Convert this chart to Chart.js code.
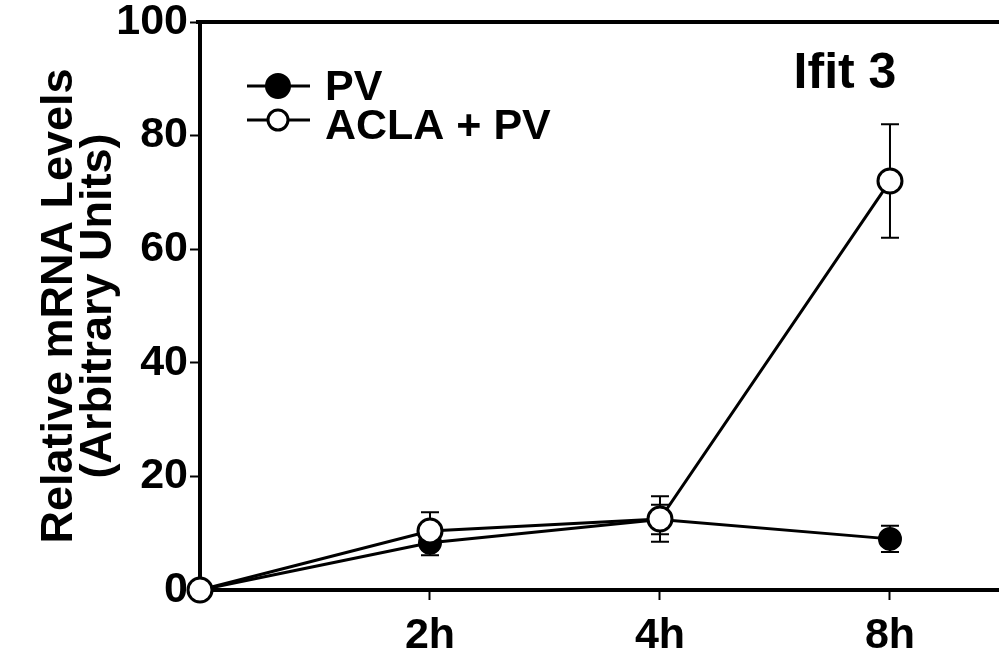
<!DOCTYPE html>
<html><head><meta charset="utf-8">
<script src="https://cdn.jsdelivr.net/npm/chart.js@4.4.0/dist/chart.umd.min.js"></script>
<style>html,body{margin:0;padding:0;background:#fff;overflow:hidden}#wrap{width:999px;height:656px;position:relative}</style>
</head><body><div id="wrap"><canvas id="c"></canvas></div>
<script>
const categories = ['', '2h', '4h', '8h'];
const pvValues = [0, 8.3, 12.4, 9.0];
const pvErrors = [0, 2.2, 2.6, 2.3];
const aclaValues = [0, 10.4, 12.5, 72.0];
const aclaErrors = [0, 3.3, 4.0, 10.0];
const yTicks = [0, 20, 40, 60, 80, 100];
const xTickIdx = [1, 2, 3];
const seriesLabels = ['PV', 'ACLA + PV'];
const panelTitle = 'Ifit 3';
const yTitle = ['Relative mRNA Levels', '(Arbitrary Units)'];

const FONT = '"Liberation Sans", Arial, Helvetica, sans-serif';

const toPts = (vals) => vals.map((v, i) => ({x: i, y: v}));

const errorBarPlugin = {
  id: 'errbars',
  beforeDatasetsDraw(chart) {
    const {ctx, scales: {x, y}} = chart;
    ctx.save();
    ctx.strokeStyle = '#000';
    ctx.lineWidth = 2;
    chart.data.datasets.forEach(ds => {
      ds.data.forEach((p, i) => {
        const e = ds.errors[i];
        if (!e) return;
        const px = x.getPixelForValue(p.x);
        const yt = y.getPixelForValue(p.y + e);
        const yb = y.getPixelForValue(p.y - e);
        ctx.beginPath();
        ctx.moveTo(px, yt); ctx.lineTo(px, yb);
        ctx.moveTo(px - 9, yt); ctx.lineTo(px + 9, yt);
        ctx.moveTo(px - 9, yb); ctx.lineTo(px + 9, yb);
        ctx.stroke();
      });
    });
    ctx.restore();
  }
};

const decoPlugin = {
  id: 'deco',
  afterDraw(chart) {
    const {ctx, chartArea} = chart;
    ctx.save();
    ctx.strokeStyle = '#000';
    ctx.lineWidth = 4;
    ctx.beginPath();
    ctx.moveTo(chartArea.left - 4, chartArea.top);
    ctx.lineTo(chart.width, chartArea.top);
    ctx.stroke();
    const rows = [
      {ds: chart.data.datasets.find(d => d.label === seriesLabels[0]), my: 86, ty: 88, r: 12},
      {ds: chart.data.datasets.find(d => d.label === seriesLabels[1]), my: 120, ty: 127, r: 10}
    ];
    rows.forEach(r => {
      ctx.strokeStyle = '#000';
      ctx.lineWidth = 3;
      ctx.beginPath();
      ctx.moveTo(247, r.my); ctx.lineTo(310, r.my);
      ctx.stroke();
      ctx.beginPath();
      ctx.arc(278, r.my, r.r, 0, Math.PI * 2);
      ctx.fillStyle = r.ds.pointBackgroundColor;
      ctx.fill();
      ctx.lineWidth = r.ds.pointBorderWidth;
      ctx.stroke();
      ctx.fillStyle = '#000';
      ctx.font = 'bold 43px ' + FONT;
      ctx.textAlign = 'left';
      ctx.textBaseline = 'middle';
      ctx.fillText(r.ds.label, 325, r.ty);
    });
    ctx.font = 'bold 50px ' + FONT;
    ctx.textAlign = 'center';
    ctx.textBaseline = 'middle';
    ctx.fillStyle = '#000';
    ctx.fillText(panelTitle, 845, 74);
    ctx.restore();
  }
};

new Chart(document.getElementById('c'), {
  type: 'line',
  data: {
    datasets: [
      {
        label: seriesLabels[1],
        data: toPts(aclaValues),
        errors: aclaErrors,
        borderColor: '#000', borderWidth: 3,
        pointRadius: 12, pointHoverRadius: 12,
        pointBackgroundColor: '#fff', pointBorderColor: '#000', pointBorderWidth: 3,
        tension: 0, clip: false, order: 0
      },
      {
        label: seriesLabels[0],
        data: toPts(pvValues),
        errors: pvErrors,
        borderColor: '#000', borderWidth: 3,
        pointRadius: 11, pointHoverRadius: 11,
        pointBackgroundColor: '#000', pointBorderColor: '#000', pointBorderWidth: 2,
        tension: 0, clip: false, order: 1
      }
    ]
  },
  options: {
    responsive: true,
    maintainAspectRatio: false,
    animation: false,
    layout: {autoPadding: false, padding: {top: 22, right: 0, left: 0, bottom: 0}},
    plugins: {legend: {display: false}, tooltip: {enabled: false}},
    scales: {
      x: {
        type: 'linear',
        min: 0, max: 3.474,
        afterBuildTicks: s => { s.ticks = xTickIdx.map(v => ({value: v})); },
        afterFit: s => { s.height = 66; s.paddingLeft = 0; s.paddingRight = 0; },
        ticks: {
          autoSkip: false, maxRotation: 0, padding: 15,
          color: '#000',
          font: {family: FONT, size: 43, weight: 'bold', lineHeight: 1},
          callback: v => categories[v] ?? ''
        },
        grid: {drawOnChartArea: false, drawTicks: true, tickLength: 10, tickColor: '#000', tickWidth: 2},
        border: {display: true, color: '#000', width: 4}
      },
      y: {
        min: 0, max: 100,
        afterBuildTicks: s => { s.ticks = yTicks.map(v => ({value: v})); },
        afterFit: s => { s.width = 200; s.paddingTop = 0; s.paddingBottom = 0; },
        ticks: {
          padding: 2, color: '#000',
          font: {family: FONT, size: 43, weight: 'bold', lineHeight: 1}
        },
        grid: {drawOnChartArea: false, drawTicks: true, tickLength: 10, tickColor: '#000', tickWidth: 2},
        border: {display: true, color: '#000', width: 4},
        title: {
          display: true, text: yTitle, color: '#000',
          font: {family: FONT, size: 45, weight: 'bold', lineHeight: 0.87},
          padding: {top: 40, bottom: 0}
        }
      }
    }
  },
  plugins: [errorBarPlugin, decoPlugin]
});
</script></body></html>
